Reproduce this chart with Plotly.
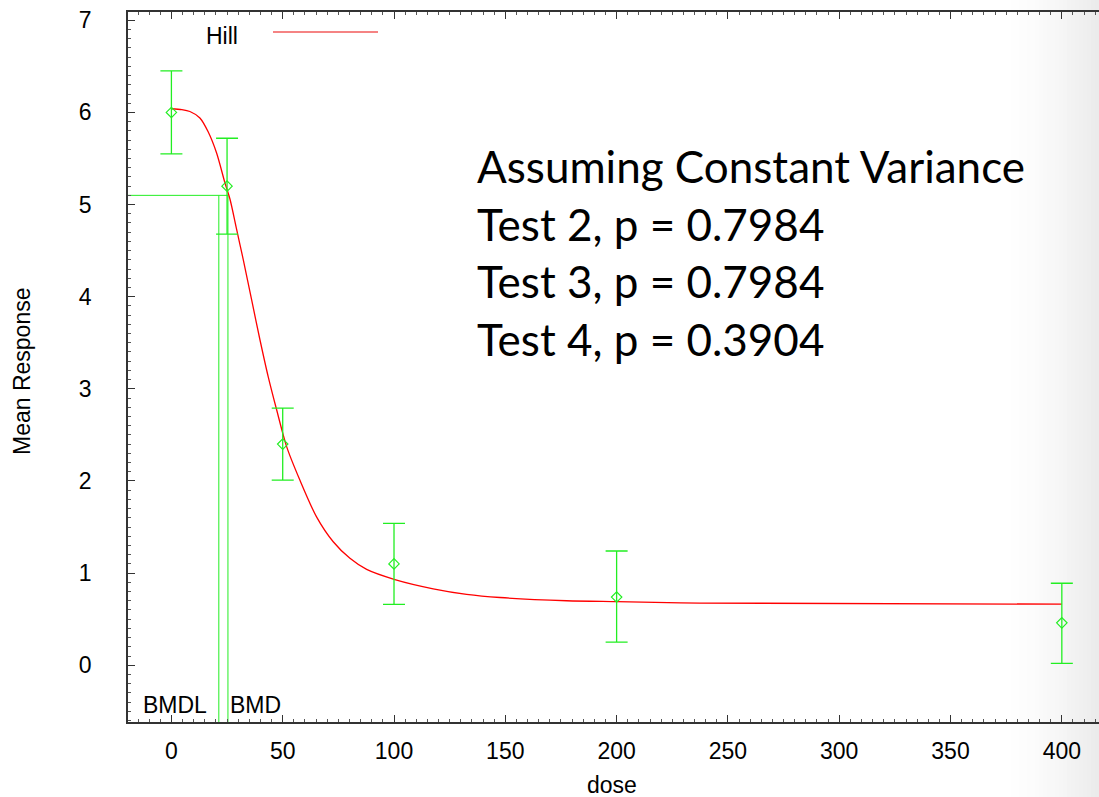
import plotly.graph_objects as go

# ---- data ----
dose = [0, 25, 50, 100, 200, 400]
mean_resp = [6.00, 5.20, 2.40, 1.10, 0.74, 0.46]
err_upper = [0.45, 0.52, 0.39, 0.44, 0.50, 0.43]
err_lower = [0.45, 0.52, 0.39, 0.44, 0.49, 0.44]

curve_dose = [0, 4.7, 8.3, 12.8, 16.5, 20.3, 24.0, 26.3, 29.3, 32.3, 36.0, 39.8,
              43.5, 47.3, 51.8, 57.7, 65.2, 72.7, 80.2, 87.7, 100.4, 117.6,
              132.6, 147.6, 177.5, 200, 237.4, 400]
curve_resp = [6.04, 6.03, 6.01, 5.94, 5.79, 5.56, 5.24, 5.06, 4.73, 4.40, 3.97, 3.53,
              3.13, 2.77, 2.37, 2.01, 1.61, 1.34, 1.16, 1.04, 0.93, 0.83,
              0.77, 0.735, 0.70, 0.69, 0.675, 0.663]

bmd = 25.4
bmdl = 21.3
bmr_level = 5.10

x_range = [-19.5, 416.7]
y_range = [-0.616, 7.09]

x_ticks = [0, 50, 100, 150, 200, 250, 300, 350, 400]
y_ticks = [0, 1, 2, 3, 4, 5, 6, 7]

stats_lines = ["Assuming Constant Variance",
               "Test 2, p = 0.7984",
               "Test 3, p = 0.7984",
               "Test 4, p = 0.3904"]

GREEN = "#22ee22"
AX = "Liberation Sans, Arial, sans-serif"

fig = go.Figure()

# BMD / BMDL guide lines
fig.add_trace(go.Scatter(x=[x_range[0], bmd, bmd], y=[bmr_level, bmr_level, y_range[0]],
                         mode="lines", line=dict(color=GREEN, width=1),
                         hoverinfo="skip", showlegend=False))
fig.add_trace(go.Scatter(x=[bmdl, bmdl], y=[bmr_level, y_range[0]],
                         mode="lines", line=dict(color=GREEN, width=1),
                         hoverinfo="skip", showlegend=False))

# fitted Hill curve
fig.add_trace(go.Scatter(x=curve_dose, y=curve_resp, mode="lines",
                         line=dict(color="red", width=1.3, shape="spline", smoothing=0.8),
                         name="Hill", showlegend=False))

# observed means with error bars
fig.add_trace(go.Scatter(x=dose, y=mean_resp, mode="markers",
                         marker=dict(symbol="diamond-open", size=8, color=GREEN,
                                     line=dict(width=1.2, color=GREEN)),
                         error_y=dict(type="data", symmetric=False, array=err_upper,
                                      arrayminus=err_lower, color=GREEN,
                                      thickness=1.3, width=11),
                         showlegend=False))

W, H = 1099, 797
L, R, T, B = 128, 0, 12, 75
pw, ph = W - L - R, H - T - B


def px2paper_x(px):
    return (px - L) / pw


def px2paper_y(py):
    return (H - B - py) / ph


shapes = []
# soft grey shading at the right edge
n = 24
for i in range(n):
    x0 = 1003 + i * 4
    t = (i + 1) / n
    g = int(round(255 - 20 * t ** 1.6))
    shapes.append(dict(type="rect", xref="paper", yref="paper",
                       x0=px2paper_x(x0), x1=px2paper_x(x0 + 4.5),
                       y0=-0.2, y1=1.1, line=dict(width=0),
                       fillcolor=f"rgb({g},{g},{g})", layer="below"))
# legend line
shapes.append(dict(type="line", xref="paper", yref="paper",
                   x0=px2paper_x(273), x1=px2paper_x(378),
                   y0=px2paper_y(32), y1=px2paper_y(32),
                   line=dict(color="#f25a5a", width=1.5)))

annotations = []
annotations.append(dict(text="Hill", xref="paper", yref="paper",
                        x=px2paper_x(204), y=px2paper_y(36), xanchor="left", yanchor="middle",
                        showarrow=False, font=dict(family=AX, size=23, color="black")))
line_y = [166, 223.5, 281, 338.5]
for txt, yy in zip(stats_lines, line_y):
    annotations.append(dict(text=txt, xref="paper", yref="paper",
                            x=px2paper_x(475), y=px2paper_y(yy), xanchor="left",
                            yanchor="middle", showarrow=False,
                            font=dict(family="Lato, sans-serif", size=44, color="black")))
annotations.append(dict(text="BMDL", x=bmdl, y=-0.435, xref="x", yref="y",
                        xanchor="right", yanchor="middle", xshift=-10, showarrow=False,
                        font=dict(family=AX, size=23, color="black")))
annotations.append(dict(text="BMD", x=bmd, y=-0.435, xref="x", yref="y",
                        xanchor="left", yanchor="middle", xshift=0, showarrow=False,
                        font=dict(family=AX, size=23, color="black")))
annotations.append(dict(text="dose", xref="paper", yref="paper",
                        x=px2paper_x(612), y=px2paper_y(785), xanchor="center",
                        yanchor="middle", showarrow=False,
                        font=dict(family=AX, size=23, color="black")))
annotations.append(dict(text="Mean Response", xref="paper", yref="paper",
                        x=px2paper_x(22), y=px2paper_y(371), xanchor="center",
                        yanchor="middle", textangle=-90, showarrow=False,
                        font=dict(family=AX, size=23, color="black")))

fig.update_layout(
    width=W, height=H,
    margin=dict(l=L, r=R, t=T, b=B, pad=0),
    paper_bgcolor="white", plot_bgcolor="rgba(0,0,0,0)",
    showlegend=False,
    shapes=shapes, annotations=annotations,
    xaxis=dict(range=x_range, tickvals=x_ticks, ticks="inside", ticklen=7,
               tickwidth=1.2, tickcolor="#333", showline=True, linecolor="#333",
               linewidth=1.5, mirror="ticks", showgrid=False, zeroline=False,
               ticklabelstandoff=8,
               tickfont=dict(family=AX, size=23, color="black"),
               minor=dict(dtick=5, tick0=0, ticks="inside", ticklen=3.5,
                          tickwidth=1, tickcolor="#555", showgrid=False)),
    yaxis=dict(range=y_range, tickvals=y_ticks, ticks="inside", ticklen=7,
               tickwidth=1.2, tickcolor="#333", showline=True, linecolor="#333",
               linewidth=1.5, mirror=False, showgrid=False, zeroline=False,
               ticklabelstandoff=30,
               tickfont=dict(family=AX, size=23, color="black"),
               minor=dict(dtick=0.1, tick0=0, ticks="inside", ticklen=3.5,
                          tickwidth=1, tickcolor="#555", showgrid=False)),
)

fig.write_html("out.html", config={"displayModeBar": False},
               post_script="document.body.style.margin='0';document.body.style.overflow='hidden';")
